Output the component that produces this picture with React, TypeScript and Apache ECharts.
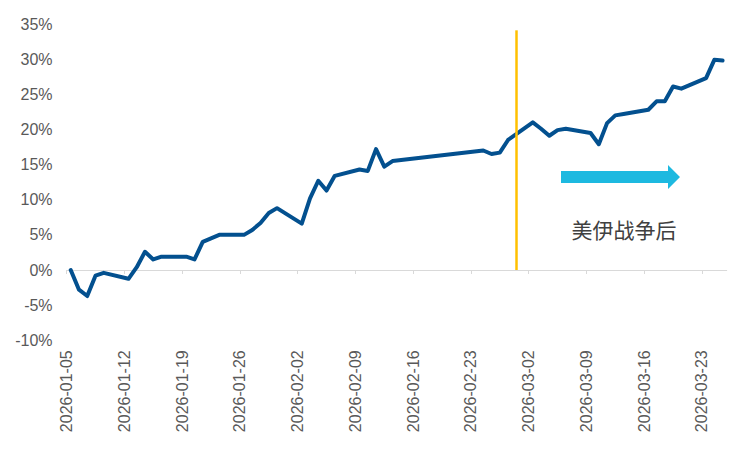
import { useEffect, useRef } from 'react';
import * as echarts from 'echarts';

const START = '2026-01-05';

const dates = [
  '2026-01-05', '2026-01-06', '2026-01-07', '2026-01-08', '2026-01-09',
  '2026-01-12', '2026-01-13', '2026-01-14', '2026-01-15', '2026-01-16',
  '2026-01-19', '2026-01-20', '2026-01-21', '2026-01-22', '2026-01-23',
  '2026-01-26', '2026-01-27', '2026-01-28', '2026-01-29', '2026-01-30',
  '2026-02-02', '2026-02-03', '2026-02-04', '2026-02-05', '2026-02-06',
  '2026-02-09', '2026-02-10', '2026-02-11', '2026-02-12', '2026-02-13',
  '2026-02-24', '2026-02-25', '2026-02-26', '2026-02-27',
  '2026-03-02', '2026-03-03', '2026-03-04', '2026-03-05', '2026-03-06',
  '2026-03-09', '2026-03-10', '2026-03-11', '2026-03-12', '2026-03-13',
  '2026-03-16', '2026-03-17', '2026-03-18', '2026-03-19', '2026-03-20',
  '2026-03-23', '2026-03-24', '2026-03-25',
];

const returns = [
  0.0, -2.8, -3.7, -0.8, -0.4,
  -1.25, 0.4, 2.6, 1.5, 1.9,
  1.9, 1.5, 4.0, 4.5, 5.0,
  5.0, 5.7, 6.7, 8.1, 8.8,
  6.6, 10.2, 12.7, 11.3, 13.4,
  14.3, 14.1, 17.2, 14.7, 15.5,
  17.0, 16.5, 16.7, 18.5,
  21.0, 20.1, 19.1, 19.9, 20.1,
  19.5, 17.9, 20.9, 22.0, 22.2,
  22.8, 24.0, 24.0, 26.1, 25.8,
  27.3, 29.9, 29.8,
];

const tickDates = [
  '2026-01-05', '2026-01-12', '2026-01-19', '2026-01-26', '2026-02-02', '2026-02-09',
  '2026-02-16', '2026-02-23', '2026-03-02', '2026-03-09', '2026-03-16', '2026-03-23',
];

const AXIS_END_DATE = '2026-03-26';
const EVENT_DATE = '2026-02-28';
const EVENT_LINE_TOP = 34.1;
const EVENT_LABEL = '美伊战争后';

const yMin = -10;
const yMax = 35;
const yStep = 5;

const DAY = 86400000;
const dayOffset = (s: string) => (Date.parse(s) - Date.parse(START)) / DAY;
const offsetToDate = (v: number) => {
  const d = new Date(Date.parse(START) + Math.round(v) * DAY);
  return d.toISOString().slice(0, 10);
};

export default function App() {
  const ref = useRef<HTMLDivElement>(null);

  useEffect(() => {
    if (!ref.current) return;
    const chart = echarts.init(ref.current, undefined, { renderer: 'svg' });
    const tickVals = tickDates.map(dayOffset);
    const xMax = dayOffset(AXIS_END_DATE);
    const eventX = dayOffset(EVENT_DATE) + 0.5;
    const font = '"Liberation Sans", Arial, sans-serif';

    chart.setOption({
      animation: false,
      textStyle: { fontFamily: font },
      grid: { left: 66.6, right: 23.3, top: 24, bottom: 109.7, outerBoundsMode: 'none' },
      xAxis: [
        {
          type: 'value',
          min: 0,
          max: xMax,
          position: 'bottom',
          axisLine: { show: true, onZero: true, lineStyle: { color: '#d9d9d9', width: 1 } },
          axisTick: { show: true, length: 4, customValues: tickVals, lineStyle: { color: '#d9d9d9', width: 1 } },
          axisLabel: { show: false },
          splitLine: { show: false },
        },
        {
          type: 'value',
          min: 0,
          max: xMax,
          position: 'bottom',
          axisLine: { show: false, onZero: false },
          axisTick: { show: false },
          splitLine: { show: false },
          axisLabel: {
            show: true,
            customValues: tickVals,
            rotate: 90,
            margin: 10,
            fontSize: 16,
            color: '#595959',
            fontFamily: font,
            formatter: (v: number) => offsetToDate(v),
          },
        },
      ],
      yAxis: {
        type: 'value',
        min: yMin,
        max: yMax,
        interval: yStep,
        axisLine: { show: false },
        axisTick: { show: false },
        splitLine: { show: false },
        axisLabel: {
          formatter: '{value}%',
          fontSize: 16,
          color: '#595959',
          margin: 14,
          fontFamily: font,
        },
      },
      series: [
        {
          type: 'line',
          xAxisIndex: 0,
          data: dates.map((d, i) => [dayOffset(d) + 0.5, returns[i]]),
          showSymbol: false,
          symbol: 'none',
          lineStyle: { color: '#03508F', width: 4, cap: 'round', join: 'round' },
          z: 2,
          markLine: {
            silent: true,
            symbol: ['none', 'none'],
            label: { show: false },
            lineStyle: { color: '#FFC000', width: 2.5, type: 'solid' },
            data: [[{ coord: [eventX, 0] }, { coord: [eventX, EVENT_LINE_TOP] }]],
          },
        },
      ],
      graphic: [
        {
          type: 'polygon',
          shape: {
            points: [[561, 171], [668, 171], [668, 165], [680, 177], [668, 189], [668, 183], [561, 183]],
          },
          style: { fill: '#1DB9E0' },
        },
        {
          type: 'text',
          x: 624,
          y: 229,
          style: {
            text: EVENT_LABEL,
            font: '21px "Noto Sans CJK SC"',
            fill: '#404040',
            align: 'center',
            verticalAlign: 'middle',
            textAlign: 'center',
            textVerticalAlign: 'middle',
          },
        },
      ],
    });

    return () => chart.dispose();
  }, []);

  return (
    <div
      ref={ref}
      style={{ position: 'fixed', left: 0, top: 0, width: 750, height: 450, background: '#fff' }}
    />
  );
}
